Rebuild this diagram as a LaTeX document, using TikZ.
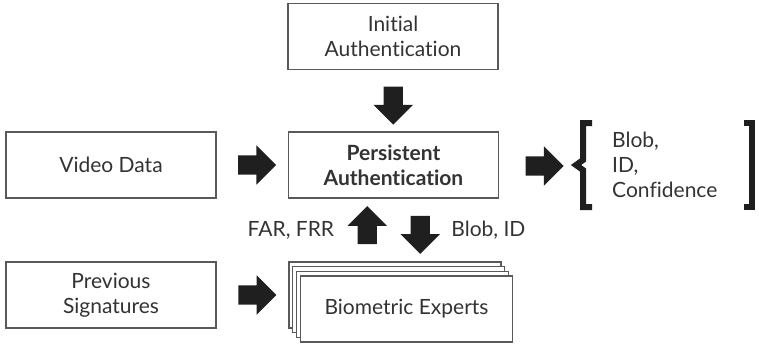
\documentclass[tikz,border=0pt]{standalone}
\usepackage{fontspec}
\setmainfont{Lato}[Ligatures=NoCommon]
\usetikzlibrary{positioning,shapes.arrows,calc}

\begin{document}
\begin{tikzpicture}[x=1pt, y=-1pt, font=\fontsize{21}{25}\selectfont]

    \colorlet{txt}{black!80}        % labels
    \colorlet{edge}{black!65}       % box outlines
    \colorlet{fat}{black!88}        % block arrows

  \tikzset{
    box/.style={draw=edge, line width=1.3pt, fill=white, text=txt,
      minimum width=210pt, minimum height=66pt, inner sep=0pt, align=center},
    fatarrow/.style={single arrow, fill=fat, draw=none, inner sep=9.5pt,
      minimum height=38pt, single arrow head extend=10pt},
    lbl/.style={text=txt, inner sep=0pt}
  }

  \useasboundingbox (0,0) rectangle (759,343);

  % boxes
  \node[box] (init) at (393,36.5) {Initial\\Authentication};
  \node[box] (pa)   at (393.5,165) {\bfseries Persistent\\\bfseries Authentication};
  \node[box] (vid)  at (111,165) {Video Data};
  \node[box] (prev) at (111,295) {Previous\\Signatures};

  % stack of experts, back to front
  \foreach \i in {0,1,2}
    \node[box, minimum width=212pt] (bio\i) at ({395+3.8*\i},{295+4.7*\i}) {};
  \node[box, minimum width=212pt] (bio) at (406.5,309) {Biometric Experts};

  % block arrows
  \node[fatarrow] (a1) at ($(vid.east)!0.5!(pa.west)$) {};
  \node[fatarrow] (a2) at ($(prev.east)!0.5!(prev.east -| bio0.west)$) {};
  \node[fatarrow, shape border rotate=270] (a3) at ($(init.south)!0.5!(pa.north)$) {};
  \node[fatarrow] (a4) at ($(pa.east)+(40.5,1)$) {};
  \node[fatarrow, shape border rotate=90]  (up)   at ($(pa.south)!0.5!(bio0.north)+(-27,0)$) {};
  \node[fatarrow, shape border rotate=270] (down) at ($(pa.south)!0.5!(bio0.north)+(26,0)$) {};

  % labels beside the two small arrows
  \node[lbl, anchor=east] (far) at ($(up.center)+(-33,0)$) {FAR, FRR};
  \node[lbl, anchor=west] (bid) at ($(down.center)+(31,0)$) {Blob, ID};

  % output bracket
  \draw[fat, line width=6pt, line join=miter]
    (592,123) -- (583,123) -- (583,160) -- (576,165) -- (583,170) -- (583,207) -- (592,207);
  \draw[fat, line width=6pt, line join=miter]
    (744,123) -- (752,123) -- (752,207) -- (744,207);
  \node[lbl, anchor=west, align=left] (out) at (612,165) {Blob,\\ID,\\Confidence};

\end{tikzpicture}
\end{document}
